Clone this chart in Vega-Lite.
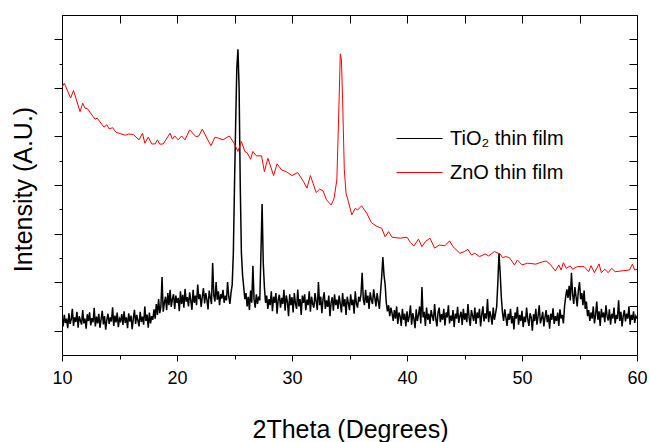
{
  "$schema": "https://vega.github.io/schema/vega-lite/v6.json",
  "width": 575,
  "height": 340,
  "autosize": "none",
  "padding": {"left": 62, "top": 15, "right": 13, "bottom": 87},
  "background": "white",
  "config": {
    "view": {"stroke": "black", "strokeWidth": 1},
    "axis": {"grid": false, "domain": false, "tickColor": "black", "labelColor": "black", "titleColor": "black", "labelFont": "Liberation Sans", "titleFont": "Liberation Sans", "titleFontWeight": "normal", "labelOverlap": false, "labelFlush": false},
    "legend": {"labelFont": "Liberation Sans"}
  },
  "datasets": {
    "tio2": [
{"x":10.0,"y":140},{"x":10.1,"y":118},{"x":10.2,"y":165},{"x":10.3,"y":132},{"x":10.4,"y":150},{"x":10.5,"y":110},{"x":10.6,"y":172},{"x":10.7,"y":128},{"x":10.8,"y":146},{"x":10.9,"y":190},
{"x":11.0,"y":120},{"x":11.1,"y":155},{"x":11.2,"y":136},{"x":11.3,"y":178},{"x":11.4,"y":112},{"x":11.5,"y":160},{"x":11.6,"y":142},{"x":11.7,"y":125},{"x":11.8,"y":185},{"x":11.9,"y":130},
{"x":12.0,"y":150},{"x":12.1,"y":108},{"x":12.2,"y":168},{"x":12.3,"y":140},{"x":12.4,"y":176},{"x":12.5,"y":122},{"x":12.6,"y":152},{"x":12.7,"y":135},{"x":12.8,"y":194},{"x":12.9,"y":118},
{"x":13.0,"y":158},{"x":13.1,"y":130},{"x":13.2,"y":170},{"x":13.3,"y":112},{"x":13.4,"y":148},{"x":13.5,"y":182},{"x":13.6,"y":126},{"x":13.7,"y":160},{"x":13.8,"y":104},{"x":13.9,"y":145},
{"x":14.0,"y":170},{"x":14.1,"y":128},{"x":14.2,"y":155},{"x":14.3,"y":138},{"x":14.4,"y":196},{"x":14.5,"y":120},{"x":14.6,"y":162},{"x":14.7,"y":134},{"x":14.8,"y":175},{"x":14.9,"y":115},
{"x":15.0,"y":150},{"x":15.1,"y":140},{"x":15.2,"y":168},{"x":15.3,"y":124},{"x":15.4,"y":180},{"x":15.5,"y":132},{"x":15.6,"y":155},{"x":15.7,"y":110},{"x":15.8,"y":172},{"x":15.9,"y":138},
{"x":16.0,"y":162},{"x":16.1,"y":106},{"x":16.2,"y":150},{"x":16.3,"y":186},{"x":16.4,"y":128},{"x":16.5,"y":165},{"x":16.6,"y":142},{"x":16.7,"y":118},{"x":16.8,"y":178},{"x":16.9,"y":136},
{"x":17.0,"y":158},{"x":17.1,"y":125},{"x":17.2,"y":200},{"x":17.3,"y":140},{"x":17.4,"y":166},{"x":17.5,"y":112},{"x":17.6,"y":175},{"x":17.7,"y":130},{"x":17.8,"y":160},{"x":17.9,"y":145},
{"x":18.0,"y":188},{"x":18.1,"y":150},{"x":18.2,"y":210},{"x":18.3,"y":165},{"x":18.4,"y":230},{"x":18.5,"y":172},{"x":18.6,"y":200},{"x":18.7,"y":321},{"x":18.8,"y":178},{"x":18.9,"y":215},
{"x":19.0,"y":240},{"x":19.1,"y":185},{"x":19.2,"y":255},{"x":19.3,"y":205},{"x":19.4,"y":268},{"x":19.5,"y":198},{"x":19.6,"y":230},{"x":19.7,"y":250},{"x":19.8,"y":190},{"x":19.9,"y":245},
{"x":20.0,"y":215},{"x":20.1,"y":235},{"x":20.2,"y":180},{"x":20.3,"y":262},{"x":20.4,"y":210},{"x":20.5,"y":248},{"x":20.6,"y":195},{"x":20.7,"y":272},{"x":20.8,"y":220},{"x":20.9,"y":238},
{"x":21.0,"y":200},{"x":21.1,"y":258},{"x":21.2,"y":225},{"x":21.3,"y":186},{"x":21.4,"y":268},{"x":21.5,"y":215},{"x":21.6,"y":245},{"x":21.7,"y":205},{"x":21.8,"y":290},{"x":21.9,"y":230},
{"x":22.0,"y":250},{"x":22.1,"y":198},{"x":22.2,"y":240},{"x":22.3,"y":275},{"x":22.4,"y":212},{"x":22.5,"y":255},{"x":22.6,"y":228},{"x":22.7,"y":188},{"x":22.8,"y":265},{"x":22.9,"y":236},
{"x":23.0,"y":210},{"x":23.1,"y":379},{"x":23.2,"y":245},{"x":23.3,"y":220},{"x":23.4,"y":300},{"x":23.5,"y":228},{"x":23.6,"y":262},{"x":23.7,"y":205},{"x":23.8,"y":250},{"x":23.9,"y":232},
{"x":24.0,"y":268},{"x":24.1,"y":215},{"x":24.2,"y":245},{"x":24.3,"y":225},{"x":24.4,"y":300},{"x":24.5,"y":240},{"x":24.6,"y":210},{"x":24.7,"y":258},{"x":24.8,"y":290},{"x":24.9,"y":420},
{"x":25.0,"y":700},{"x":25.1,"y":950},{"x":25.2,"y":1180},{"x":25.3,"y":1259},{"x":25.4,"y":1100},{"x":25.5,"y":700},{"x":25.6,"y":420},{"x":25.7,"y":330},{"x":25.8,"y":280},{"x":25.9,"y":230},
{"x":26.0,"y":255},{"x":26.1,"y":200},{"x":26.2,"y":240},{"x":26.3,"y":185},{"x":26.4,"y":265},{"x":26.5,"y":215},{"x":26.6,"y":367},{"x":26.7,"y":230},{"x":26.8,"y":195},{"x":26.9,"y":250},
{"x":27.0,"y":210},{"x":27.1,"y":240},{"x":27.2,"y":225},{"x":27.3,"y":420},{"x":27.4,"y":622},{"x":27.5,"y":380},{"x":27.6,"y":280},{"x":27.7,"y":215},{"x":27.8,"y":245},{"x":27.9,"y":190},
{"x":28.0,"y":230},{"x":28.1,"y":205},{"x":28.2,"y":262},{"x":28.3,"y":180},{"x":28.4,"y":240},{"x":28.5,"y":215},{"x":28.6,"y":255},{"x":28.7,"y":170},{"x":28.8,"y":228},{"x":28.9,"y":248},
{"x":29.0,"y":195},{"x":29.1,"y":235},{"x":29.2,"y":210},{"x":29.3,"y":268},{"x":29.4,"y":182},{"x":29.5,"y":245},{"x":29.6,"y":220},{"x":29.7,"y":160},{"x":29.8,"y":250},{"x":29.9,"y":205},
{"x":30.0,"y":238},{"x":30.1,"y":175},{"x":30.2,"y":255},{"x":30.3,"y":212},{"x":30.4,"y":190},{"x":30.5,"y":270},{"x":30.6,"y":200},{"x":30.7,"y":230},{"x":30.8,"y":165},{"x":30.9,"y":245},
{"x":31.0,"y":215},{"x":31.1,"y":250},{"x":31.2,"y":185},{"x":31.3,"y":228},{"x":31.4,"y":205},{"x":31.5,"y":262},{"x":31.6,"y":178},{"x":31.7,"y":240},{"x":31.8,"y":210},{"x":31.9,"y":195},
{"x":32.0,"y":255},{"x":32.1,"y":220},{"x":32.2,"y":185},{"x":32.3,"y":300},{"x":32.4,"y":205},{"x":32.5,"y":240},{"x":32.6,"y":172},{"x":32.7,"y":230},{"x":32.8,"y":258},{"x":32.9,"y":190},
{"x":33.0,"y":225},{"x":33.1,"y":198},{"x":33.2,"y":245},{"x":33.3,"y":160},{"x":33.4,"y":215},{"x":33.5,"y":238},{"x":33.6,"y":182},{"x":33.7,"y":250},{"x":33.8,"y":205},{"x":33.9,"y":228},
{"x":34.0,"y":190},{"x":34.1,"y":245},{"x":34.2,"y":210},{"x":34.3,"y":175},{"x":34.4,"y":255},{"x":34.5,"y":200},{"x":34.6,"y":230},{"x":34.7,"y":165},{"x":34.8,"y":240},{"x":34.9,"y":215},
{"x":35.0,"y":185},{"x":35.1,"y":250},{"x":35.2,"y":205},{"x":35.3,"y":228},{"x":35.4,"y":170},{"x":35.5,"y":262},{"x":35.6,"y":212},{"x":35.7,"y":195},{"x":35.8,"y":240},{"x":35.9,"y":220},
{"x":36.0,"y":250},{"x":36.1,"y":339},{"x":36.2,"y":230},{"x":36.3,"y":205},{"x":36.4,"y":268},{"x":36.5,"y":215},{"x":36.6,"y":245},{"x":36.7,"y":190},{"x":36.8,"y":258},{"x":36.9,"y":228},
{"x":37.0,"y":210},{"x":37.1,"y":270},{"x":37.2,"y":235},{"x":37.3,"y":200},{"x":37.4,"y":255},{"x":37.5,"y":222},{"x":37.6,"y":190},{"x":37.7,"y":260},{"x":37.8,"y":322},{"x":37.9,"y":403},
{"x":38.0,"y":330},{"x":38.1,"y":290},{"x":38.2,"y":215},{"x":38.3,"y":180},{"x":38.4,"y":205},{"x":38.5,"y":160},{"x":38.6,"y":195},{"x":38.7,"y":172},{"x":38.8,"y":140},{"x":38.9,"y":185},
{"x":39.0,"y":150},{"x":39.1,"y":200},{"x":39.2,"y":128},{"x":39.3,"y":175},{"x":39.4,"y":160},{"x":39.5,"y":120},{"x":39.6,"y":190},{"x":39.7,"y":145},{"x":39.8,"y":170},{"x":39.9,"y":118},
{"x":40.0,"y":180},{"x":40.1,"y":135},{"x":40.2,"y":160},{"x":40.3,"y":205},{"x":40.4,"y":125},{"x":40.5,"y":172},{"x":40.6,"y":150},{"x":40.7,"y":110},{"x":40.8,"y":188},{"x":40.9,"y":140},
{"x":41.0,"y":165},{"x":41.1,"y":200},{"x":41.2,"y":130},{"x":41.3,"y":280},{"x":41.4,"y":155},{"x":41.5,"y":178},{"x":41.6,"y":120},{"x":41.7,"y":195},{"x":41.8,"y":145},{"x":41.9,"y":170},
{"x":42.0,"y":128},{"x":42.1,"y":185},{"x":42.2,"y":160},{"x":42.3,"y":140},{"x":42.4,"y":210},{"x":42.5,"y":150},{"x":42.6,"y":118},{"x":42.7,"y":176},{"x":42.8,"y":195},{"x":42.9,"y":135},
{"x":43.0,"y":168},{"x":43.1,"y":145},{"x":43.2,"y":190},{"x":43.3,"y":122},{"x":43.4,"y":175},{"x":43.5,"y":155},{"x":43.6,"y":205},{"x":43.7,"y":130},{"x":43.8,"y":162},{"x":43.9,"y":140},
{"x":44.0,"y":185},{"x":44.1,"y":115},{"x":44.2,"y":170},{"x":44.3,"y":150},{"x":44.4,"y":198},{"x":44.5,"y":132},{"x":44.6,"y":160},{"x":44.7,"y":178},{"x":44.8,"y":124},{"x":44.9,"y":190},
{"x":45.0,"y":145},{"x":45.1,"y":172},{"x":45.2,"y":135},{"x":45.3,"y":210},{"x":45.4,"y":155},{"x":45.5,"y":120},{"x":45.6,"y":185},{"x":45.7,"y":162},{"x":45.8,"y":140},{"x":45.9,"y":195},
{"x":46.0,"y":128},{"x":46.1,"y":175},{"x":46.2,"y":152},{"x":46.3,"y":190},{"x":46.4,"y":118},{"x":46.5,"y":165},{"x":46.6,"y":200},{"x":46.7,"y":138},{"x":46.8,"y":172},{"x":46.9,"y":150},
{"x":47.0,"y":230},{"x":47.1,"y":135},{"x":47.2,"y":180},{"x":47.3,"y":160},{"x":47.4,"y":125},{"x":47.5,"y":195},{"x":47.6,"y":145},{"x":47.7,"y":170},{"x":47.8,"y":200},{"x":47.9,"y":300},
{"x":48.0,"y":419},{"x":48.1,"y":340},{"x":48.2,"y":240},{"x":48.3,"y":175},{"x":48.4,"y":140},{"x":48.5,"y":188},{"x":48.6,"y":155},{"x":48.7,"y":120},{"x":48.8,"y":170},{"x":48.9,"y":145},
{"x":49.0,"y":190},{"x":49.1,"y":130},{"x":49.2,"y":160},{"x":49.3,"y":105},{"x":49.4,"y":175},{"x":49.5,"y":150},{"x":49.6,"y":198},{"x":49.7,"y":125},{"x":49.8,"y":165},{"x":49.9,"y":140},
{"x":50.0,"y":182},{"x":50.1,"y":115},{"x":50.2,"y":158},{"x":50.3,"y":135},{"x":50.4,"y":195},{"x":50.5,"y":148},{"x":50.6,"y":120},{"x":50.7,"y":172},{"x":50.8,"y":155},{"x":50.9,"y":100},
{"x":51.0,"y":168},{"x":51.1,"y":140},{"x":51.2,"y":190},{"x":51.3,"y":125},{"x":51.4,"y":160},{"x":51.5,"y":205},{"x":51.6,"y":130},{"x":51.7,"y":150},{"x":51.8,"y":178},{"x":51.9,"y":118},
{"x":52.0,"y":155},{"x":52.1,"y":185},{"x":52.2,"y":135},{"x":52.3,"y":165},{"x":52.4,"y":108},{"x":52.5,"y":170},{"x":52.6,"y":145},{"x":52.7,"y":192},{"x":52.8,"y":128},{"x":52.9,"y":160},
{"x":53.0,"y":140},{"x":53.1,"y":175},{"x":53.2,"y":120},{"x":53.3,"y":188},{"x":53.4,"y":150},{"x":53.5,"y":165},{"x":53.6,"y":130},{"x":53.7,"y":200},{"x":53.8,"y":240},{"x":53.9,"y":270},
{"x":54.0,"y":235},{"x":54.1,"y":285},{"x":54.2,"y":225},{"x":54.3,"y":339},{"x":54.4,"y":250},{"x":54.5,"y":210},{"x":54.6,"y":280},{"x":54.7,"y":240},{"x":54.8,"y":200},{"x":54.9,"y":265},
{"x":55.0,"y":300},{"x":55.1,"y":230},{"x":55.2,"y":255},{"x":55.3,"y":205},{"x":55.4,"y":265},{"x":55.5,"y":190},{"x":55.6,"y":220},{"x":55.7,"y":160},{"x":55.8,"y":185},{"x":55.9,"y":140},
{"x":56.0,"y":175},{"x":56.1,"y":150},{"x":56.2,"y":200},{"x":56.3,"y":130},{"x":56.4,"y":165},{"x":56.5,"y":220},{"x":56.6,"y":145},{"x":56.7,"y":180},{"x":56.8,"y":120},{"x":56.9,"y":190},
{"x":57.0,"y":155},{"x":57.1,"y":175},{"x":57.2,"y":135},{"x":57.3,"y":205},{"x":57.4,"y":160},{"x":57.5,"y":142},{"x":57.6,"y":188},{"x":57.7,"y":125},{"x":57.8,"y":170},{"x":57.9,"y":150},
{"x":58.0,"y":195},{"x":58.1,"y":130},{"x":58.2,"y":165},{"x":58.3,"y":148},{"x":58.4,"y":225},{"x":58.5,"y":140},{"x":58.6,"y":178},{"x":58.7,"y":118},{"x":58.8,"y":160},{"x":58.9,"y":185},
{"x":59.0,"y":138},{"x":59.1,"y":170},{"x":59.2,"y":150},{"x":59.3,"y":200},{"x":59.4,"y":125},{"x":59.5,"y":165},{"x":59.6,"y":145},{"x":59.7,"y":180},{"x":59.8,"y":132},{"x":59.9,"y":160},
{"x":60.0,"y":150}
    ],
    "zno": [
{"x":10.0,"y":1103},{"x":10.2,"y":1119},{"x":10.75,"y":1058},{"x":11.0,"y":1089},{"x":11.57,"y":1002},{"x":11.8,"y":1037},{"x":12.0,"y":1016},{"x":12.2,"y":1015},{"x":12.87,"y":971},{"x":13.07,"y":975},
{"x":13.65,"y":938},{"x":13.9,"y":948},{"x":14.1,"y":931},{"x":14.4,"y":936},{"x":14.7,"y":917},{"x":15.5,"y":905},{"x":15.8,"y":910},{"x":16.2,"y":908},{"x":16.7,"y":886},{"x":17.0,"y":913},
{"x":17.2,"y":872},{"x":17.5,"y":897},{"x":17.8,"y":869},{"x":18.1,"y":869},{"x":18.3,"y":886},{"x":18.5,"y":868},{"x":18.8,"y":869},{"x":19.4,"y":913},{"x":19.6,"y":889},{"x":19.8,"y":902},
{"x":20.1,"y":886},{"x":20.4,"y":902},{"x":20.7,"y":886},{"x":21.1,"y":927},{"x":21.65,"y":899},{"x":21.9,"y":902},{"x":22.2,"y":930},{"x":22.6,"y":893},{"x":22.95,"y":862},{"x":23.3,"y":897},
{"x":23.6,"y":893},{"x":24.0,"y":886},{"x":24.55,"y":902},{"x":25.0,"y":869},{"x":25.3,"y":838},{"x":25.6,"y":879},{"x":25.9,"y":838},{"x":26.1,"y":833},{"x":26.4,"y":806},{"x":26.6,"y":838},
{"x":26.9,"y":820},{"x":27.35,"y":820},{"x":27.6,"y":755},{"x":27.9,"y":810},{"x":28.4,"y":739},{"x":28.7,"y":787},{"x":29.1,"y":762},{"x":29.5,"y":755},{"x":30.0,"y":739},{"x":30.5,"y":751},
{"x":31.0,"y":714},{"x":31.3,"y":687},{"x":31.6,"y":739},{"x":32.1,"y":669},{"x":32.4,"y":683},{"x":32.7,"y":676},{"x":33.0,"y":639},{"x":33.4,"y":618},{"x":33.65,"y":643},{"x":33.9,"y":721},
{"x":34.05,"y":968},{"x":34.2,"y":1240},{"x":34.3,"y":1215},{"x":34.4,"y":1051},{"x":34.55,"y":762},{"x":34.7,"y":666},{"x":34.9,"y":632},{"x":35.2,"y":577},{"x":35.5,"y":604},{"x":35.7,"y":597},
{"x":36.05,"y":614},{"x":36.5,"y":584},{"x":36.9,"y":545},{"x":37.4,"y":529},{"x":37.8,"y":522},{"x":38.1,"y":487},{"x":38.4,"y":508},{"x":38.7,"y":485},{"x":39.4,"y":481},{"x":40.0,"y":485},
{"x":40.3,"y":463},{"x":40.6,"y":449},{"x":41.0,"y":477},{"x":41.3,"y":446},{"x":41.6,"y":467},{"x":42.0,"y":481},{"x":42.4,"y":440},{"x":42.8,"y":453},{"x":43.3,"y":450},{"x":43.7,"y":470},
{"x":44.0,"y":446},{"x":44.6,"y":419},{"x":45.0,"y":426},{"x":45.3,"y":435},{"x":45.6,"y":412},{"x":45.9,"y":419},{"x":46.3,"y":405},{"x":46.8,"y":416},{"x":47.1,"y":408},{"x":47.6,"y":426},
{"x":48.1,"y":416},{"x":48.3,"y":401},{"x":48.6,"y":405},{"x":48.9,"y":401},{"x":49.35,"y":371},{"x":49.6,"y":391},{"x":50.0,"y":371},{"x":50.5,"y":378},{"x":51.2,"y":374},{"x":51.8,"y":384},
{"x":52.1,"y":387},{"x":52.5,"y":371},{"x":52.9,"y":346},{"x":53.2,"y":371},{"x":53.4,"y":350},{"x":53.6,"y":380},{"x":53.85,"y":357},{"x":54.2,"y":367},{"x":54.4,"y":353},{"x":54.8,"y":364},
{"x":55.4,"y":364},{"x":55.8,"y":343},{"x":56.0,"y":368},{"x":56.3,"y":339},{"x":56.7,"y":375},{"x":56.9,"y":339},{"x":57.2,"y":353},{"x":57.5,"y":339},{"x":57.8,"y":357},{"x":58.1,"y":343},
{"x":58.8,"y":347},{"x":59.35,"y":350},{"x":59.6,"y":374},{"x":59.8,"y":350},{"x":60.0,"y":353}
    ]
  },
  "resolve": {"axis": {"x": "independent", "y": "independent"}},
  "layer": [
    {
      "data": {"name": "tio2"},
      "mark": {"type": "line", "strokeWidth": 1.5, "clip": true},
      "encoding": {
        "x": {"field": "x", "type": "quantitative", "scale": {"domain": [10, 60], "nice": false, "zero": false},
          "axis": {"orient": "bottom", "values": [10, 15, 20, 25, 30, 35, 40, 45, 50, 55, 60],
            "tickSize": {"condition": {"test": "datum.value % 10 === 0", "value": 6}, "value": 4},
            "labelExpr": "datum.value % 10 === 0 ? datum.label : ''",
            "labelFontSize": 18, "labelBaseline": "alphabetic", "labelPadding": 22,
            "title": "2Theta (Degrees)", "titleFontSize": 25, "titleX": 288, "titleY": 82, "titleBaseline": "alphabetic", "titleAnchor": "middle"}},
        "y": {"field": "y", "type": "quantitative", "scale": {"domain": [0, 1400], "nice": false, "zero": false},
          "axis": {"orient": "left", "values": [100, 200, 300, 400, 500, 600, 700, 800, 900, 1000, 1100, 1200, 1300],
            "tickSize": {"condition": {"test": "datum.value % 200 === 100", "value": 8}, "value": 3},
            "labels": false,
            "title": "Intensity (A.U.)", "titleFontSize": 25, "titleX": -31, "titleY": 174, "titleAngle": -90, "titleBaseline": "alphabetic", "titleAlign": "center"}},
        "color": {"datum": "TiO₂ thin film", "type": "nominal",
          "scale": {"domain": ["TiO₂ thin film", "ZnO thin film"], "range": ["black", "red"]},
          "legend": {"orient": "none", "legendX": 334, "legendY": 100, "title": null, "symbolType": "stroke", "symbolSize": 2116, "symbolStrokeWidth": 1, "labelFontSize": 20, "labelOffset": 7, "padding": 0, "rowPadding": -7, "labelColor": "black"}}
      }
    },
    {
      "data": {"name": "zno"},
      "mark": {"type": "line", "strokeWidth": 1, "clip": true},
      "encoding": {
        "x": {"field": "x", "type": "quantitative", "scale": {"domain": [10, 60], "nice": false, "zero": false},
          "axis": {"orient": "top", "values": [10, 15, 20, 25, 30, 35, 40, 45, 50, 55, 60], "offset": -8, "tickSize": 8, "labels": false, "title": null}},
        "y": {"field": "y", "type": "quantitative", "scale": {"domain": [0, 1400], "nice": false, "zero": false},
          "axis": {"orient": "right", "values": [100, 200, 300, 400, 500, 600, 700, 800, 900, 1000, 1100, 1200, 1300], "offset": -8, "tickSize": 8, "labels": false, "title": null}},
        "color": {"datum": "ZnO thin film", "type": "nominal"}
      }
    }
  ]
}
